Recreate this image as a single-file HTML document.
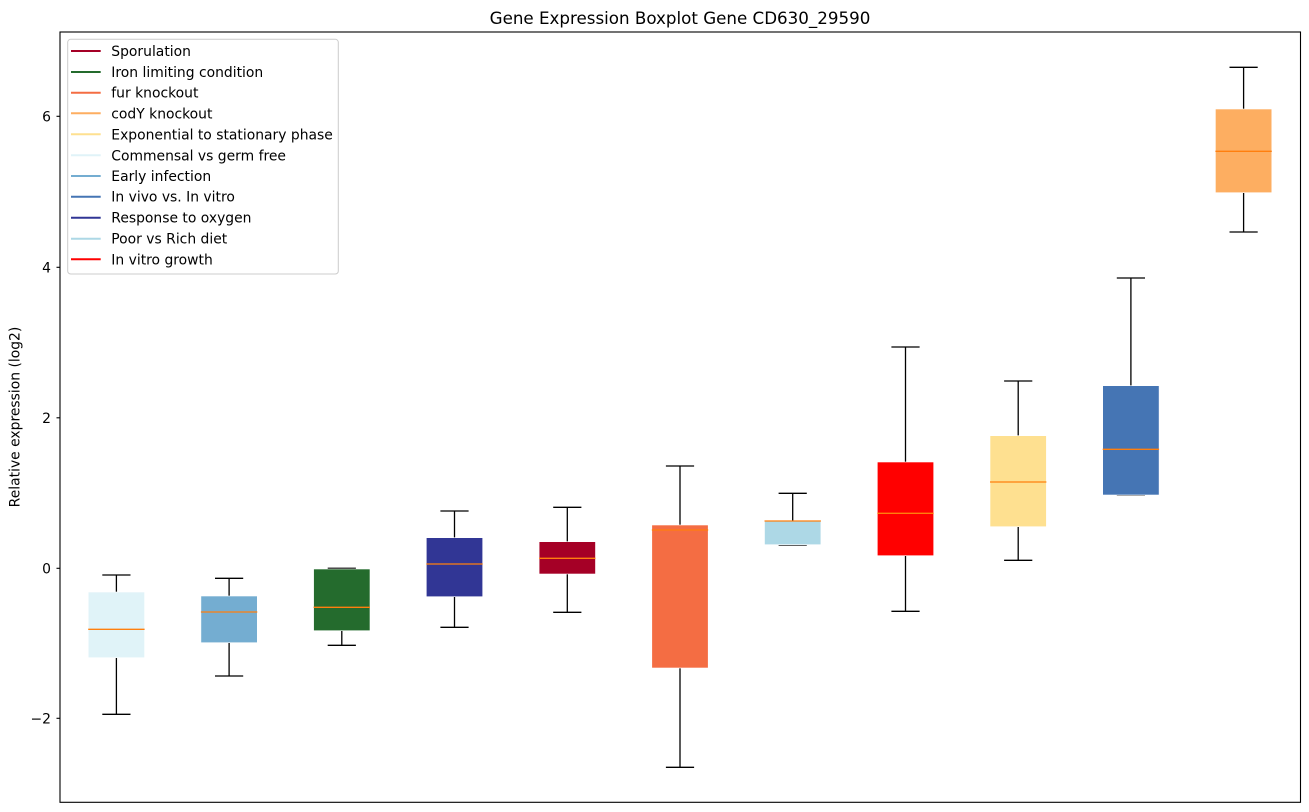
<!DOCTYPE html>
<html>
<head>
<meta charset="utf-8">
<style>
  html, body { margin:0; padding:0; background:#ffffff; }
  svg { display:block; }
  text { font-family: "DejaVu Sans", "Liberation Sans", sans-serif; fill:#000; }
</style>
</head>
<body>
<svg width="1309" height="812" viewBox="0 0 1309 812" xmlns="http://www.w3.org/2000/svg">
  <rect x="0" y="0" width="1309" height="812" fill="#ffffff"/>

  <!-- Title -->
  <text x="680" y="24" font-size="16.7" text-anchor="middle">Gene Expression Boxplot Gene CD630_29590</text>

  <!-- Y label -->
  <text transform="translate(19.5,417) rotate(-90)" font-size="13.9" text-anchor="middle">Relative expression (log2)</text>

  <!-- Y ticks -->
  <g stroke="#000" stroke-width="1.1">
    <line x1="56.5" y1="116.3" x2="60" y2="116.3"/>
    <line x1="56.5" y1="267.3" x2="60" y2="267.3"/>
    <line x1="56.5" y1="417.8" x2="60" y2="417.8"/>
    <line x1="56.5" y1="568.3" x2="60" y2="568.3"/>
    <line x1="56.5" y1="718.3" x2="60" y2="718.3"/>
  </g>
  <g font-size="13.9" text-anchor="end">
    <text x="51" y="121.3">6</text>
    <text x="51" y="272.3">4</text>
    <text x="51" y="422.8">2</text>
    <text x="51" y="573.3">0</text>
    <text x="51" y="723.3">−2</text>
  </g>

  <!-- Boxes -->
  <g id="boxes">
    <!-- 1 Commensal -->
    <g>
      <line x1="116.4" y1="575" x2="116.4" y2="592" stroke="#000" stroke-width="1.3"/>
      <line x1="116.4" y1="657.7" x2="116.4" y2="714.3" stroke="#000" stroke-width="1.3"/>
      <line x1="102.3" y1="575" x2="130.5" y2="575" stroke="#000" stroke-width="1.3"/>
      <line x1="102.3" y1="714.3" x2="130.5" y2="714.3" stroke="#000" stroke-width="1.3"/>
      <rect x="88.2" y="592" width="56.4" height="65.7" fill="#e0f3f8" stroke="#ffffff" stroke-width="0.6"/>
      <line x1="88.2" y1="629.3" x2="144.6" y2="629.3" stroke="#ff7f0e" stroke-width="1.3"/>
    </g>
    <!-- 2 Early infection -->
    <g>
      <line x1="229.1" y1="578.3" x2="229.1" y2="596" stroke="#000" stroke-width="1.3"/>
      <line x1="229.1" y1="642.7" x2="229.1" y2="676" stroke="#000" stroke-width="1.3"/>
      <line x1="215" y1="578.3" x2="243.2" y2="578.3" stroke="#000" stroke-width="1.3"/>
      <line x1="215" y1="676" x2="243.2" y2="676" stroke="#000" stroke-width="1.3"/>
      <rect x="200.9" y="596" width="56.4" height="46.7" fill="#74add1" stroke="#ffffff" stroke-width="0.6"/>
      <line x1="200.9" y1="612" x2="257.3" y2="612" stroke="#ff7f0e" stroke-width="1.3"/>
    </g>
    <!-- 3 Iron limiting -->
    <g>
      <line x1="341.8" y1="630.7" x2="341.8" y2="645.3" stroke="#000" stroke-width="1.3"/>
      <line x1="327.7" y1="568.3" x2="355.9" y2="568.3" stroke="#000" stroke-width="1.3"/>
      <line x1="327.7" y1="645.3" x2="355.9" y2="645.3" stroke="#000" stroke-width="1.3"/>
      <rect x="313.6" y="569" width="56.4" height="61.7" fill="#246b2d" stroke="#ffffff" stroke-width="0.6"/>
      <line x1="313.6" y1="607.3" x2="370" y2="607.3" stroke="#ff7f0e" stroke-width="1.3"/>
    </g>
    <!-- 4 Response to oxygen -->
    <g>
      <line x1="454.5" y1="511" x2="454.5" y2="537.7" stroke="#000" stroke-width="1.3"/>
      <line x1="454.5" y1="596.7" x2="454.5" y2="627.3" stroke="#000" stroke-width="1.3"/>
      <line x1="440.4" y1="511" x2="468.6" y2="511" stroke="#000" stroke-width="1.3"/>
      <line x1="440.4" y1="627.3" x2="468.6" y2="627.3" stroke="#000" stroke-width="1.3"/>
      <rect x="426.3" y="537.7" width="56.4" height="59" fill="#313695" stroke="#ffffff" stroke-width="0.6"/>
      <line x1="426.3" y1="564" x2="482.7" y2="564" stroke="#ff7f0e" stroke-width="1.3"/>
    </g>
    <!-- 5 Sporulation -->
    <g>
      <line x1="567.3" y1="507.3" x2="567.3" y2="541.7" stroke="#000" stroke-width="1.3"/>
      <line x1="567.3" y1="574" x2="567.3" y2="612.3" stroke="#000" stroke-width="1.3"/>
      <line x1="553.2" y1="507.3" x2="581.4" y2="507.3" stroke="#000" stroke-width="1.3"/>
      <line x1="553.2" y1="612.3" x2="581.4" y2="612.3" stroke="#000" stroke-width="1.3"/>
      <rect x="539.1" y="541.7" width="56.4" height="32.3" fill="#a50026" stroke="#ffffff" stroke-width="0.6"/>
      <line x1="539.1" y1="558.3" x2="595.5" y2="558.3" stroke="#ff7f0e" stroke-width="1.3"/>
    </g>
    <!-- 6 fur knockout -->
    <g>
      <line x1="680" y1="466" x2="680" y2="525" stroke="#000" stroke-width="1.3"/>
      <line x1="680" y1="668" x2="680" y2="767.3" stroke="#000" stroke-width="1.3"/>
      <line x1="665.9" y1="466" x2="694.1" y2="466" stroke="#000" stroke-width="1.3"/>
      <line x1="665.9" y1="767.3" x2="694.1" y2="767.3" stroke="#000" stroke-width="1.3"/>
      <rect x="651.8" y="525" width="56.4" height="143" fill="#f46d43" stroke="#ffffff" stroke-width="0.6"/>
      <line x1="651.8" y1="530" x2="708.2" y2="530" stroke="#ff7f0e" stroke-width="1.3"/>
    </g>
    <!-- 7 Poor vs Rich diet -->
    <g>
      <line x1="792.7" y1="493.3" x2="792.7" y2="521" stroke="#000" stroke-width="1.3"/>
      <line x1="778.6" y1="493.3" x2="806.8" y2="493.3" stroke="#000" stroke-width="1.3"/>
      <line x1="778.6" y1="545" x2="806.8" y2="545" stroke="#000" stroke-width="1.3"/>
      <rect x="764.5" y="521" width="56.4" height="23.7" fill="#add8e6" stroke="#ffffff" stroke-width="0.6"/>
      <line x1="764.5" y1="521" x2="820.9" y2="521" stroke="#ff7f0e" stroke-width="1.3"/>
    </g>
    <!-- 8 In vitro growth -->
    <g>
      <line x1="905.5" y1="347" x2="905.5" y2="462" stroke="#000" stroke-width="1.3"/>
      <line x1="905.5" y1="555.7" x2="905.5" y2="611.3" stroke="#000" stroke-width="1.3"/>
      <line x1="891.4" y1="347" x2="919.6" y2="347" stroke="#000" stroke-width="1.3"/>
      <line x1="891.4" y1="611.3" x2="919.6" y2="611.3" stroke="#000" stroke-width="1.3"/>
      <rect x="877.3" y="462" width="56.4" height="93.7" fill="#ff0000" stroke="#ffffff" stroke-width="0.6"/>
      <line x1="877.3" y1="513.3" x2="933.7" y2="513.3" stroke="#ff7f0e" stroke-width="1.3"/>
    </g>
    <!-- 9 Exponential -->
    <g>
      <line x1="1018.2" y1="381" x2="1018.2" y2="435.7" stroke="#000" stroke-width="1.3"/>
      <line x1="1018.2" y1="526.7" x2="1018.2" y2="560.3" stroke="#000" stroke-width="1.3"/>
      <line x1="1004.1" y1="381" x2="1032.3" y2="381" stroke="#000" stroke-width="1.3"/>
      <line x1="1004.1" y1="560.3" x2="1032.3" y2="560.3" stroke="#000" stroke-width="1.3"/>
      <rect x="990" y="435.7" width="56.4" height="91" fill="#fee090" stroke="#ffffff" stroke-width="0.6"/>
      <line x1="990" y1="482" x2="1046.4" y2="482" stroke="#ff7f0e" stroke-width="1.3"/>
    </g>
    <!-- 10 In vivo -->
    <g>
      <line x1="1130.9" y1="278" x2="1130.9" y2="385.7" stroke="#000" stroke-width="1.3"/>
      <line x1="1116.8" y1="278" x2="1145" y2="278" stroke="#000" stroke-width="1.3"/>
      <line x1="1116.8" y1="495" x2="1145" y2="495" stroke="#000" stroke-width="1.3"/>
      <rect x="1102.7" y="385.7" width="56.4" height="109.3" fill="#4575b4" stroke="#ffffff" stroke-width="0.6"/>
      <line x1="1102.7" y1="449.3" x2="1159.1" y2="449.3" stroke="#ff7f0e" stroke-width="1.3"/>
    </g>
    <!-- 11 codY -->
    <g>
      <line x1="1243.6" y1="67.3" x2="1243.6" y2="109" stroke="#000" stroke-width="1.3"/>
      <line x1="1243.6" y1="192.7" x2="1243.6" y2="232" stroke="#000" stroke-width="1.3"/>
      <line x1="1229.5" y1="67.3" x2="1257.7" y2="67.3" stroke="#000" stroke-width="1.3"/>
      <line x1="1229.5" y1="232" x2="1257.7" y2="232" stroke="#000" stroke-width="1.3"/>
      <rect x="1215.4" y="109" width="56.4" height="83.7" fill="#fdae61" stroke="#ffffff" stroke-width="0.6"/>
      <line x1="1215.4" y1="151.3" x2="1271.8" y2="151.3" stroke="#ff7f0e" stroke-width="1.3"/>
    </g>
  </g>

  <!-- Axes frame -->
  <rect x="60" y="32" width="1240.5" height="770.3" fill="none" stroke="#000" stroke-width="1.1"/>

  <!-- Legend -->
  <rect x="67.7" y="39.3" width="270.6" height="234.7" rx="3" ry="3" fill="#ffffff" fill-opacity="0.8" stroke="#cccccc" stroke-width="1"/>
  <g stroke-width="2">
    <line x1="71" y1="51" x2="100.7" y2="51" stroke="#a50026"/>
    <line x1="71" y1="72" x2="100.7" y2="72" stroke="#246b2d"/>
    <line x1="71" y1="92.7" x2="100.7" y2="92.7" stroke="#f46d43"/>
    <line x1="71" y1="113.3" x2="100.7" y2="113.3" stroke="#fdae61"/>
    <line x1="71" y1="134.3" x2="100.7" y2="134.3" stroke="#fee090"/>
    <line x1="71" y1="155.3" x2="100.7" y2="155.3" stroke="#e0f3f8"/>
    <line x1="71" y1="176" x2="100.7" y2="176" stroke="#74add1"/>
    <line x1="71" y1="196.7" x2="100.7" y2="196.7" stroke="#4575b4"/>
    <line x1="71" y1="217.7" x2="100.7" y2="217.7" stroke="#313695"/>
    <line x1="71" y1="238.7" x2="100.7" y2="238.7" stroke="#add8e6"/>
    <line x1="71" y1="259.3" x2="100.7" y2="259.3" stroke="#ff0000"/>
  </g>
  <g font-size="13.9">
    <text x="111.3" y="56">Sporulation</text>
    <text x="111.3" y="77">Iron limiting condition</text>
    <text x="111.3" y="97.7">fur knockout</text>
    <text x="111.3" y="118.3">codY knockout</text>
    <text x="111.3" y="139.3">Exponential to stationary phase</text>
    <text x="111.3" y="160.3">Commensal vs germ free</text>
    <text x="111.3" y="181">Early infection</text>
    <text x="111.3" y="201.7">In vivo vs. In vitro</text>
    <text x="111.3" y="222.7">Response to oxygen</text>
    <text x="111.3" y="243.7">Poor vs Rich diet</text>
    <text x="111.3" y="264.3">In vitro growth</text>
  </g>
</svg>
</body>
</html>
